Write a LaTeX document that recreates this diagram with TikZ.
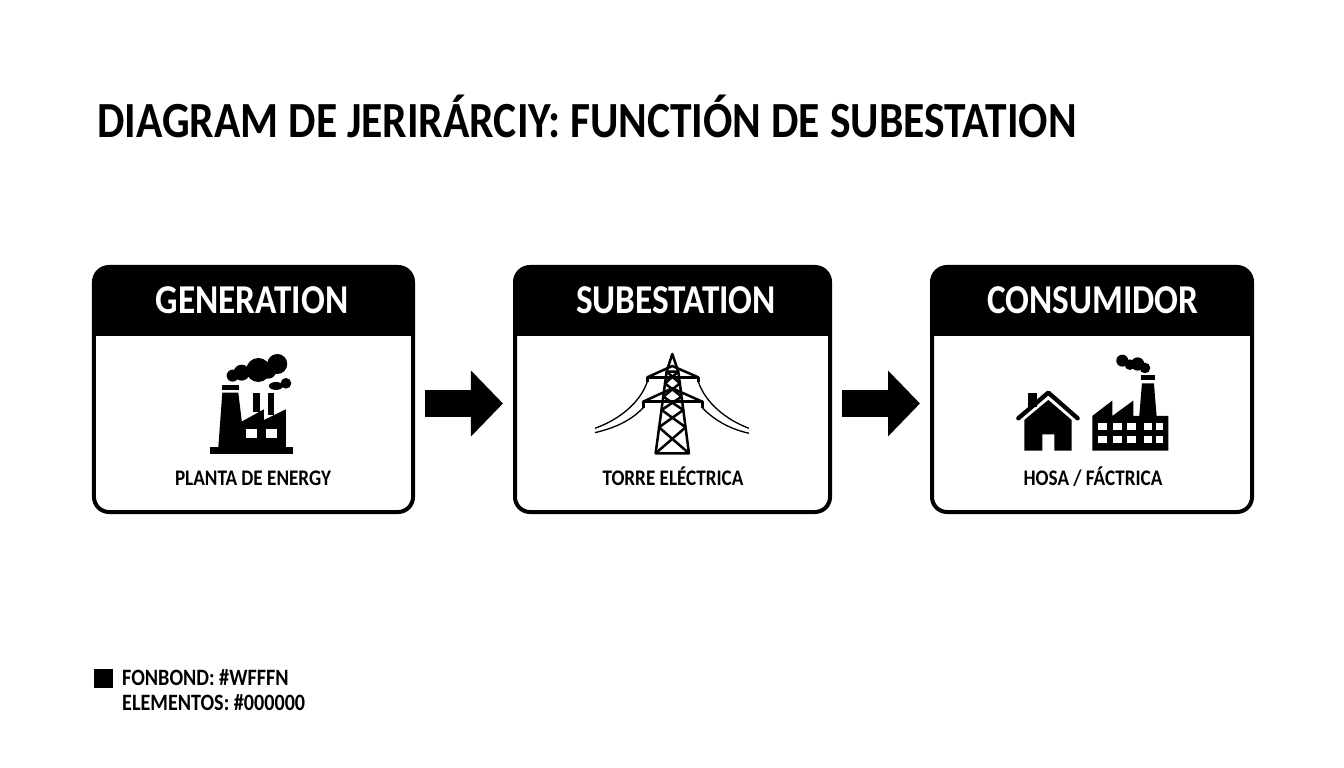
\documentclass[tikz,border=0pt]{standalone}
\usepackage{fontspec}
\setmainfont[FakeStretch=0.86]{Carlito}
\usetikzlibrary{arrows.meta}
\tikzset{
  card/.style={draw, rounded corners=0.45cm, line width=0.12cm, outer sep=0pt, minimum height=7.35cm},
  headtext/.style={text=white, font=\fontsize{35}{35}\selectfont\bfseries, inner sep=0pt, anchor=base},
  subtext/.style={font=\fontsize{19}{19}\selectfont\bfseries, inner sep=0pt, anchor=base},
  legendtext/.style={font=\fontsize{20}{20}\selectfont\bfseries, inner sep=0pt, anchor=base west},
  flow/.style={line width=0.81cm, shorten <=0.36cm, shorten >=0.36cm, -{Triangle[length=0.96cm, width=1.92cm]}},
  icon/.style={x=0.01cm, y=-0.01cm},
  wire/.style={line width=0.04cm},
  lattice/.style={line width=0.075cm, line join=round}
}
\begin{document}
\begin{tikzpicture}[x=0.03cm, y=-0.03cm]
\useasboundingbox (0,0) rectangle (1344,768);
\fill[white] (0,0) rectangle (1344,768);

\node[font=\fontsize{43.2}{44}\selectfont\bfseries, inner sep=0pt, anchor=base west] (title) at (97,138) {DIAGRAM DE JERIRÁRCIY: FUNCTIÓN DE SUBESTATION};

% cards
\node[card, minimum width=9.57cm] (gen) at (253.5,389.5) {};
\node[card, minimum width=9.45cm] (sub) at (672.5,389.5) {};
\node[card, minimum width=9.6cm] (con) at (1092,389.5) {};

% black headers
\fill ([yshift=-2.07cm]gen.north west) [rounded corners=0.45cm] -- (gen.north west) -- (gen.north east) [sharp corners] -- ([yshift=-2.07cm]gen.north east) -- cycle;
\fill ([yshift=-2.07cm]sub.north west) [rounded corners=0.45cm] -- (sub.north west) -- (sub.north east) [sharp corners] -- ([yshift=-2.07cm]sub.north east) -- cycle;
\fill ([yshift=-2.07cm]con.north west) [rounded corners=0.45cm] -- (con.north west) -- (con.north east) [sharp corners] -- ([yshift=-2.07cm]con.north east) -- cycle;

\node[headtext] (genhead) at (252,314) {GENERATION};
\node[headtext] (subhead) at (676,314) {SUBESTATION};
\node[headtext] (conhead) at (1093,314) {CONSUMIDOR};

\node[subtext] (genlabel) at (253,485) {PLANTA DE ENERGY};
\node[subtext] (sublabel) at (673,485) {TORRE ELÉCTRICA};
\node[subtext] (conlabel) at (1093,485) {HOSA / FÁCTRICA};

% arrows
\draw[flow] ([yshift=-0.42cm]gen.east) -- ([yshift=-0.42cm]sub.west);
\draw[flow] ([yshift=-0.42cm]sub.east) -- ([yshift=-0.42cm]con.west);

% power plant
\begin{scope}[shift={(190,340)}, icon]
\fill (60,322) rectangle (308,342);
\fill (97,135) rectangle (147,150);
\fill (97,158) -- (145,158) -- (165,322) -- (85,322) -- cycle;
\fill (155,245) -- (222,208) -- (222,240) -- (288,208) -- (288,322) -- (155,322) -- cycle;
\fill (190,158) rectangle (210,215);
\fill (233,160) rectangle (253,225);
\fill[white] (167,268) rectangle (200,293);
\fill[white] (228,268) rectangle (262,293);
\fill (128,107) circle (18) (155,98) circle (24) (205,90) circle (36) (262,72) circle (30) (235,92) circle (24);
\fill (258,138) ellipse (21 and 12) (288,130) circle (16);
\end{scope}

% tower
\begin{scope}[shift={(585,340)}, icon]
\draw[lattice] (212,340) -- (245,95) -- (262,42) -- (280,95) -- (312,340);
\draw[lattice] (245,95) -- (285,130) -- (235,170) -- (295,210) -- (222,262) -- (312,340) -- (212,340) -- (302,262) -- (230,210) -- (290,170) -- (240,130) -- (280,95) -- cycle;
\draw[lattice, line width=0.1cm] (187,125) -- (187,112) -- (340,112) -- (340,125);
\draw[lattice] (187,112) -- (262,78) -- (340,112);
\draw[lattice, line width=0.1cm] (175,203) -- (175,185) -- (352,185) -- (352,203);
\draw[lattice] (175,185) -- (262,145) -- (352,185);
\draw[wire] (187,125) .. controls (165,190) and (100,240) .. (30,265);
\draw[wire] (175,203) .. controls (135,245) and (85,265) .. (30,278);
\draw[wire] (340,125) .. controls (362,190) and (425,240) .. (492,265);
\draw[wire] (352,203) .. controls (392,245) and (440,268) .. (492,280);
\end{scope}

% house and factory
\begin{scope}[shift={(1005,340)}, icon]
\fill (68,158) rectangle (95,200);
\draw[line width=0.13cm, line cap=round, line join=round] (40,235) -- (130,158) -- (218,235);
\fill (58,240) -- (130,180) -- (200,240) -- (200,332) -- (148,332) -- (148,283) -- (112,283) -- (112,332) -- (58,332) -- cycle;
\fill (262,332) -- (262,228) -- (322,182) -- (322,228) -- (385,182) -- (385,228) -- (403,228) -- (411,130) -- (447,130) -- (455,228) -- (490,228) -- (490,332) -- cycle;
\fill (408,105) rectangle (450,120);
\foreach \wx/\wn in {280/26, 323/27, 367/27, 418/23, 453/22} {
  \fill[white] (\wx,248) rectangle ++(\wn,22);
  \fill[white] (\wx,288) rectangle ++(\wn,22);
}
\fill (352,62) circle (18) (375,74) circle (16) (398,72) circle (20) (420,84) circle (16);
\end{scope}

% legend
\node[fill, minimum size=0.57cm, inner sep=0pt] (legendbox) at (103.5,678) {};
\node[legendtext] (legendone) at (122,685) {FONBOND: \#WFFFN};
\node[legendtext] (legendtwo) at (122,710) {ELEMENTOS: \#000000};
\end{tikzpicture}
\end{document}
